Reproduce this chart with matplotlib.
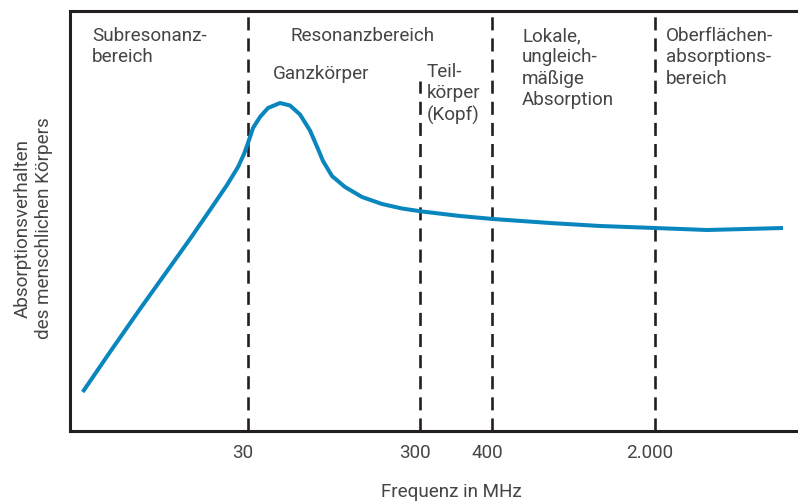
import numpy as np
import matplotlib
matplotlib.use('Agg')
import matplotlib.pyplot as plt
import matplotlib.transforms as mtransforms

plt.rcParams['font.family'] = ['Roboto', 'DejaVu Sans']
plt.rcParams['lines.scale_dashes'] = False

# schematic frequency axis (not to scale): positions of the region borders
border_pos = [178, 350, 422, 585]
border_labels = ['30', '300', '400', '2.000']
border_top = [420, 350, 420, 420]

# absorption curve, read along the schematic axis
curve_x = [12.7, 40, 70, 100, 120, 140, 157, 168, 174, 178, 183, 190, 198, 210,
           220, 230, 240, 248, 253, 256, 262, 275, 292, 312, 332, 352, 390, 423,
           480, 530, 585, 637, 713]
curve_y = [39, 79, 122, 164, 192, 221, 246, 264, 277, 288, 303, 314, 323, 328,
           325.5, 316.5, 300.5, 282, 270, 265, 255, 244, 234, 227, 222.5, 219.5,
           215, 212, 208, 205, 203, 201, 203]

region_texts = [
    (22, 405, 'Subresonanz-\nbereich'),
    (220, 405, 'Resonanzbereich'),
    (203, 367, 'Ganzkörper'),
    (357, 369, 'Teil-\nkörper\n(Kopf)'),
    (452, 405, 'Lokale,\nungleich-\nmäßige\nAbsorption'),
    (596, 405, 'Oberflächen-\nabsorptions-\nbereich'),
]

TEXT_COLOR = '#454545'
LINE_COLOR = '#231f20'
CURVE_COLOR = '#0a86bf'
FS = 13.6

fig = plt.figure(figsize=(7.98, 5.02), dpi=100)
ax = fig.add_axes([70 / 798, 1 - 432 / 502, 1 - 70 / 798, 420 / 502])
ax.set_xlim(0, 728)
ax.set_ylim(0, 420)

for x, top in zip(border_pos, border_top):
    ax.plot([x, x], [0, top], color=LINE_COLOR, lw=1.9,
            linestyle=(0, (9.4, 5.8)), solid_capstyle='butt')

ax.plot(curve_x, curve_y, color=CURVE_COLOR, lw=2.9,
        solid_joinstyle='round', solid_capstyle='butt', zorder=3)

for x, y, s in region_texts:
    ax.text(x, y, s, ha='left', va='top', fontsize=FS, color=TEXT_COLOR,
            linespacing=1.25)

ax.spines['right'].set_visible(False)
for side in ['left', 'bottom', 'top']:
    ax.spines[side].set_linewidth(2.2)
    ax.spines[side].set_color(LINE_COLOR)

ax.set_yticks([])
ax.set_xticks(border_pos)
ax.set_xticklabels(border_labels, fontsize=FS, color=TEXT_COLOR)
ax.tick_params(axis='x', length=0, pad=9)
shift = mtransforms.ScaledTranslation(-5 / 100, 0, fig.dpi_scale_trans)
for lbl in ax.get_xticklabels():
    lbl.set_transform(lbl.get_transform() + shift)

fig.text(451 / 798, 1 - 492 / 502, 'Frequenz in MHz', ha='center', va='center',
         fontsize=FS, color=TEXT_COLOR)
fig.text(33 / 798, 1 - 228 / 502, 'Absorptionsverhalten\ndes menschlichen Körpers',
         ha='center', va='center', rotation=90, fontsize=FS, color=TEXT_COLOR,
         linespacing=1.25)

fig.savefig('out.png', dpi=100)
